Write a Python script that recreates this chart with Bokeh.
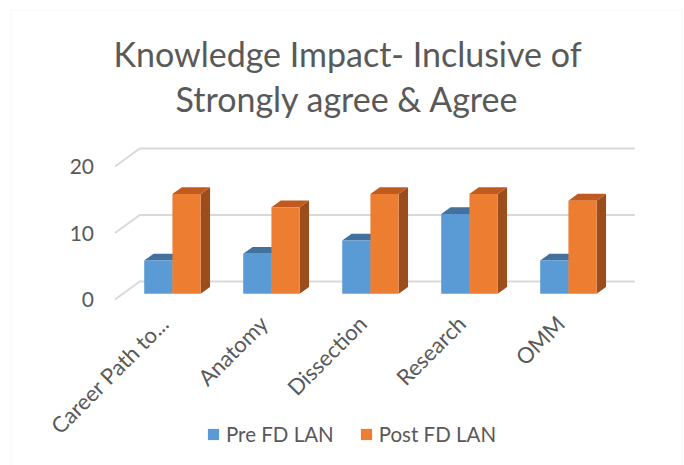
import numpy as np
from bokeh.plotting import figure
from bokeh.models import FixedTicker, Legend, LegendItem, Label, Range1d, BoxAnnotation
from bokeh.embed import file_html
from bokeh.resources import INLINE

# ---- data ----
categories = ["Career Path to...", "Anatomy", "Dissection", "Research", "OMM"]
pre_fd_lan = [5, 6, 8, 12, 5]
post_fd_lan = [15, 13, 15, 15, 14]
y_ticks = [0, 10, 20]
series_names = ["Pre FD LAN", "Post FD LAN"]
title_lines = ["Knowledge Impact- Inclusive of", "Strongly agree & Agree"]

# ---- 3D look (style constants) ----
DEPTH_X = 0.25
DEPTH_Y = 2.7
BAR_START = 0.32
BAR_DEPTH = 0.38
BAR_W = 0.285
FONT = "Lato"
TXT = "#595959"
GRID = "#d9d9d9"
shades = [
    dict(front="#5B9BD5", top="#41719C", side="#3E6C97"),
    dict(front="#ED7D31", top="#C05A1E", side="#9B4D1C"),
]

n = len(categories)
xr = Range1d(-1.5556, 5.2323)
yr = Range1d(-24.96, 43.61)
p = figure(width=684, height=465, output_backend="svg", toolbar_location=None,
           title=None, x_range=xr, y_range=yr,
           min_border_left=10, min_border_right=2, min_border_top=9,
           min_border_bottom=0)
p.outline_line_color = None
p.xgrid.visible = False
p.ygrid.visible = False

# chart border (open at the bottom, where the chart is cut off)
px_x = (xr.end - xr.start) / 672.0
px_y = (yr.end - yr.start) / 456.0
p.add_layout(BoxAnnotation(left=xr.start + 0.5 * px_x, right=xr.end - 0.5 * px_x,
                           top=yr.end - 0.5 * px_y, bottom=yr.start - 10,
                           fill_color=None, fill_alpha=0, line_color="#d9d9d9",
                           line_width=1, level="underlay"))

# gridlines: side diagonal + back wall
gx, gy = [], []
for v in y_ticks:
    gx.append([-0.5, -0.5 + DEPTH_X, n - 0.5 + DEPTH_X])
    gy.append([v, v + DEPTH_Y, v + DEPTH_Y])
p.multi_line(gx, gy, line_color=GRID, line_width=2)

# bars
base = BAR_START * DEPTH_Y
d = BAR_DEPTH * DEPTH_X
e = BAR_DEPTH * DEPTH_Y
legend_items = []
for s, vals in enumerate([pre_fd_lan, post_fd_lan]):
    lefts, rights, tops, bottoms = [], [], [], []
    for i, v in enumerate(vals):
        x0 = i + BAR_START * DEPTH_X
        l = x0 - BAR_W if s == 0 else x0
        r = x0 if s == 0 else x0 + BAR_W
        lefts.append(l); rights.append(r)
        bottoms.append(base); tops.append(base + v)
    side_xs = [[r, r + d, r + d, r] for r in rights]
    side_ys = [[b, b + e, t + e, t] for b, t in zip(bottoms, tops)]
    top_xs = [[l, r, r + d, l + d] for l, r in zip(lefts, rights)]
    top_ys = [[t, t, t + e, t + e] for t in tops]
    p.patches(side_xs, side_ys, fill_color=shades[s]["side"], line_color=None)
    p.patches(top_xs, top_ys, fill_color=shades[s]["top"], line_color=None)
    fr = p.quad(left=lefts, right=rights, bottom=bottoms, top=tops,
                fill_color=shades[s]["front"], line_color=None)
    legend_items.append(LegendItem(label=series_names[s], renderers=[fr]))

# axes (drawn at fixed data locations inside the chart area)
ya = p.yaxis[0]
ya.fixed_location = -0.5
ya.ticker = FixedTicker(ticks=y_ticks)
ya.axis_line_color = None
ya.major_tick_line_color = None
ya.minor_tick_line_color = None
ya.major_tick_out = 0
ya.major_tick_in = 0
ya.major_label_standoff = 21
ya.major_label_text_font = FONT
ya.major_label_text_font_size = "21px"
ya.major_label_text_color = TXT

xa = p.xaxis[0]
xa.fixed_location = 0
xa.ticker = FixedTicker(ticks=list(range(n)))
xa.major_label_overrides = {i: c for i, c in enumerate(categories)}
xa.major_label_orientation = np.pi / 4
xa.axis_line_color = None
xa.major_tick_line_color = None
xa.minor_tick_line_color = None
xa.major_tick_out = 0
xa.major_tick_in = 0
xa.major_label_standoff = 20
xa.major_label_text_font = FONT
xa.major_label_text_font_size = "22px"
xa.major_label_text_color = TXT

# title (two lines)
for line, yb in zip(title_lines, [412, 367]):
    p.add_layout(Label(x=337, y=yb, x_units="screen", y_units="screen",
                       text=line, text_align="center", text_baseline="alphabetic",
                       text_font=FONT, text_font_size="34px", text_color=TXT))

legend = Legend(items=legend_items, orientation="horizontal", location=(196, 19),
                glyph_width=14, glyph_height=14, label_standoff=6, spacing=25,
                padding=0, margin=0, border_line_color=None,
                label_text_font=FONT, label_text_font_size="20.5px",
                label_text_color=TXT, background_fill_alpha=0)
p.add_layout(legend, "center")

open("out.html", "w").write(file_html(p, INLINE))
